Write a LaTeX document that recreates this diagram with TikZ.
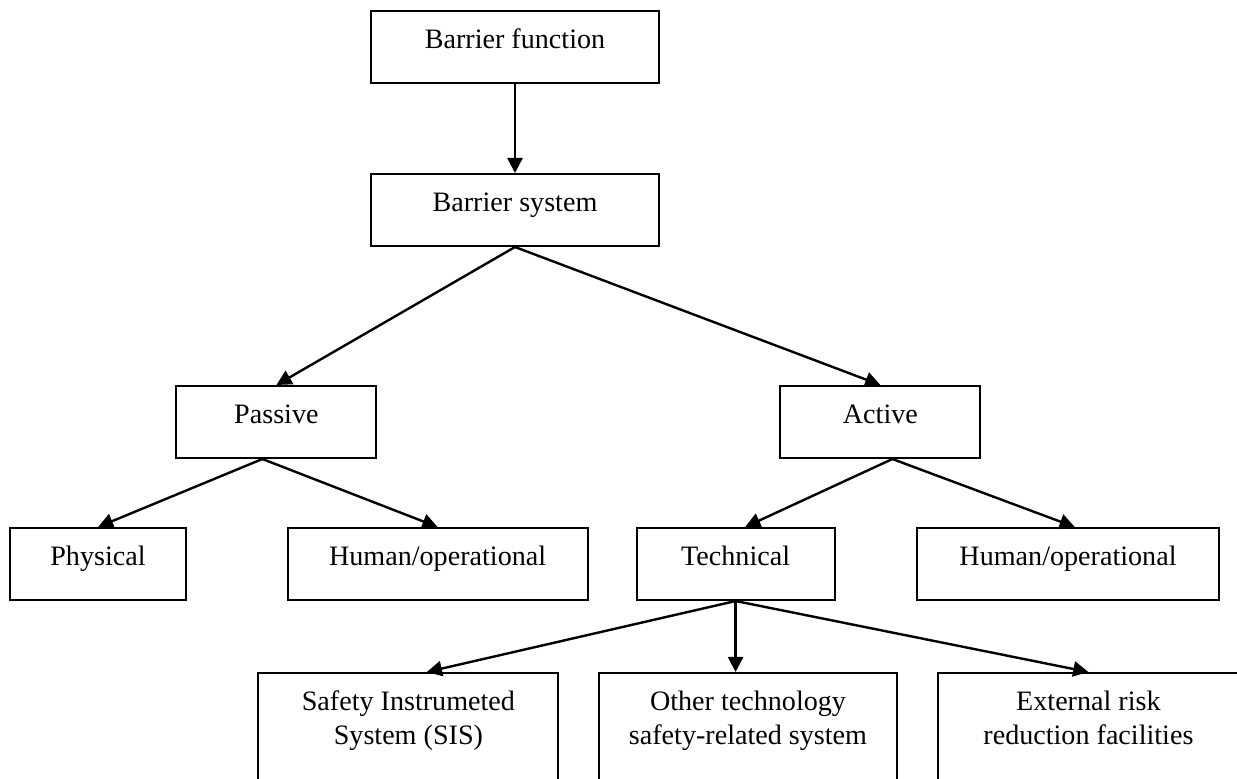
\documentclass[tikz,border=0pt]{standalone}
\usepackage{fontspec}
\setmainfont{Liberation Serif}
\usetikzlibrary{arrows.meta, calc}

\begin{document}
\begin{tikzpicture}[
    box/.style={rectangle, draw, line width=0.05cm, anchor=north, inner sep=0pt, align=center, text height=0.94cm, text depth=0.86cm, font=\fontsize{20}{24.2}\selectfont},
    tallbox/.style={box, text height=1.79cm, text depth=2.5cm},
    arrow/.style={-{Triangle[length=0.38cm, width=0.38cm]}, line width=0.06cm}
]
    \useasboundingbox (0,0) rectangle (30.925,-19.45);
    \clip (0,0) rectangle (30.925,-19.45);

    % Barrier function and system
    \node[box, minimum width=7.2cm] (function) at (12.875,-0.25) {Barrier function};
    \node[box, minimum width=7.2cm] (system) at (12.875,-4.325) {Barrier system};
    \draw[arrow] (function) -- (system);

    % Passive / active
    \node[box, minimum width=5cm] (passive) at (6.91,-9.625) {Passive};
    \node[box, minimum width=5cm] (active) at (22.01,-9.625) {Active};
    \draw[arrow] (system.south) -- (passive.north);
    \draw[arrow] (system.south) -- (active.north);

    % Passive barriers
    \node[box, minimum width=4.4cm] (physical) at (2.45,-13.175) {Physical};
    \node[box, minimum width=7.5cm] (humanpassive) at (10.94,-13.175) {Human/operational};
    \draw[arrow] ([xshift=-0.35cm]passive.south) -- (physical.north);
    \draw[arrow] ([xshift=-0.35cm]passive.south) -- (humanpassive.north);

    % Active barriers
    \node[box, minimum width=4.95cm] (technical) at (18.39,-13.175) {Technical};
    \node[box, minimum width=7.55cm] (humanactive) at (26.7,-13.175) {Human/operational};
    \draw[arrow] ([xshift=0.3cm]active.south) -- ([xshift=0.24cm]technical.north);
    \draw[arrow] ([xshift=0.3cm]active.south) -- ([xshift=0.17cm]humanactive.north);

    % Technical barriers
    \node[tallbox, minimum width=7.5cm] (sis) at (10.21,-16.8) {Safety Instrumeted\\System (SIS)};
    \node[tallbox, minimum width=7.45cm] (othertech) at (18.7,-16.8) {Other technology\\safety-related system};
    \node[tallbox, minimum width=7.5cm] (external) at (27.21,-16.8) {External risk\\reduction facilities};
    \draw[arrow] (technical.south) -- ([xshift=0.46cm]sis.north);
    \draw[arrow] (technical.south) -- (technical.south |- othertech.north);
    \draw[arrow] (technical.south) -- (external.north);
\end{tikzpicture}
\end{document}
